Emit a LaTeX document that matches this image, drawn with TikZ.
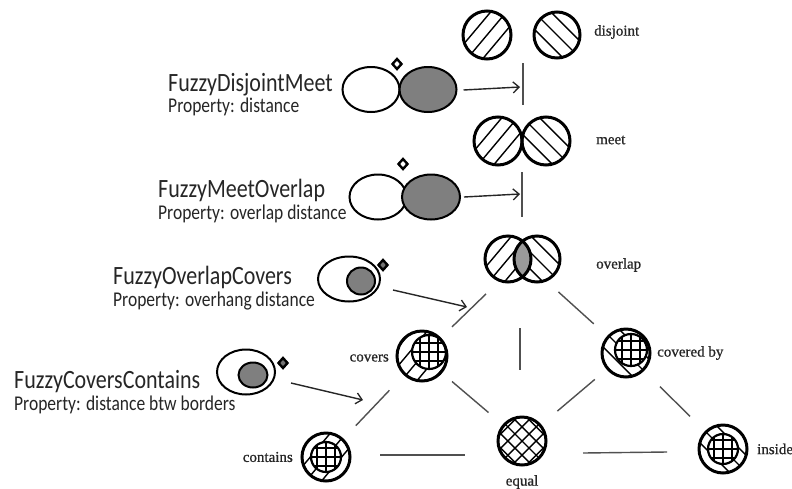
\documentclass[tikz,border=0pt]{standalone}
\usepackage{fontspec}
\usepackage{graphicx}
\setmainfont{Liberation Serif}
\newfontfamily\labfont{Liberation Serif}[FakeBold=0.8]
\newfontfamily\calib{Carlito}
\usetikzlibrary{calc,arrows.meta,shapes.geometric}
\definecolor{shade}{HTML}{7F7F7F}
\definecolor{lens}{HTML}{9A9A9A}
\definecolor{connc}{HTML}{505050}
\newcommand{\hatchlines}[4]{%
  \begin{scope}
    \clip (#1) circle (#2);
    \begin{scope}[shift={(#1)}, rotate=#3]
      \foreach \k in {-5,...,5} \draw[hatchln] (-40,\k*#4) -- (40,\k*#4);
    \end{scope}
  \end{scope}}
\newcommand{\tallt}[1]{\scalebox{1}[1.2]{#1}}
\tikzset{
  hatchln/.style={line width=1.4pt, black},
  ringln/.style={line width=3pt, black},
  innerln/.style={line width=2.2pt, black},
  conn/.style={line width=1.4pt, connc},
  arr/.style={-{Straight Barb[length=6pt,width=11pt,line width=1.3pt]}, line width=1.4pt, black!85},
  lab/.style={font=\labfont\fontsize{15}{15}\selectfont, inner sep=0, text=black!85},
  ttl/.style={font=\calib\fontsize{22}{22}\selectfont, anchor=base west, inner sep=0, text=black!85},
  prp/.style={font=\calib\fontsize{17.5}{17.5}\selectfont, anchor=base west, inner sep=0, text=black!85},
  ell/.style={ellipse, draw, line width=2pt, inner sep=0},
  dmd/.style={diamond, draw, line width=2.4pt, fill=white, minimum width=10pt, minimum height=11pt, inner sep=0},
}
\begin{document}
\begin{tikzpicture}[x=1pt,y=-1pt]
\useasboundingbox (0,0) rectangle (792,488);
\fill[white] (0,0) rectangle (792,488);

% centres of the lattice figures
\coordinate (djL) at (487,35);  \coordinate (djR) at (557,35);  \coordinate (dj) at (522,35);
\coordinate (mtL) at (498,141); \coordinate (mtR) at (546,141); \coordinate (mt) at (522,141);
\coordinate (ovL) at (508,259); \coordinate (ovR) at (537,259); \coordinate (ov) at (522,259);
\coordinate (cv) at (422,356);  \coordinate (cvi) at (429,352);
\coordinate (cb) at (626,353);  \coordinate (cbi) at (631,350);
\coordinate (ct) at (326,457);
\coordinate (eq) at (522,441);
\coordinate (in) at (723,449);

% disjoint
\hatchlines{djL}{24}{50}{12}
\hatchlines{djR}{23}{-45}{12}
\draw[ringln] (djL) circle (24);
\draw[ringln] (djR) circle (23);
% meet
\hatchlines{mtL}{24}{50}{12}
\hatchlines{mtR}{24}{-45}{12}
\draw[ringln] (mtL) circle (24);
\draw[ringln] (mtR) circle (24);
% overlap
\hatchlines{ovL}{23}{50}{12}
\hatchlines{ovR}{23}{-45}{12}
\begin{scope}
  \clip (ovL) circle (23);
  \fill[lens] (ovR) circle (23);
\end{scope}
\draw[ringln] (ovL) circle (23);
\draw[ringln] (ovR) circle (23);
% covers
\hatchlines{cv}{25}{50}{12}
\fill[white] (cvi) circle (17);
\hatchlines{cvi}{17}{0}{9}
\hatchlines{cvi}{17}{90}{9}
\draw[innerln] (cvi) circle (17);
\draw[ringln] (cv) circle (25);
% covered by
\hatchlines{cb}{24}{-45}{12}
\fill[white] (cbi) circle (16);
\hatchlines{cbi}{16}{0}{9}
\hatchlines{cbi}{16}{90}{9}
\draw[innerln] (cbi) circle (16);
\draw[ringln] (cb) circle (24);
% contains
\hatchlines{ct}{24}{50}{12}
\fill[white] (ct) circle (15);
\hatchlines{ct}{15}{0}{9}
\hatchlines{ct}{15}{90}{9}
\draw[innerln] (ct) circle (15);
\draw[ringln] (ct) circle (24);
% inside
\hatchlines{in}{24}{-45}{12}
\fill[white] (in) circle (15);
\hatchlines{in}{15}{0}{9}
\hatchlines{in}{15}{90}{9}
\draw[innerln] (in) circle (15);
\draw[ringln] (in) circle (24);
% equal
\hatchlines{eq}{24}{45}{10}
\hatchlines{eq}{24}{-45}{10}
\draw[ringln] (eq) circle (24);

% lattice labels
\node[lab, anchor=west] (ldj) at (594,32) {disjoint};
\node[lab, anchor=west] (lmt) at (596,140) {meet};
\node[lab, anchor=west] (lov) at (596,265) {overlap};
\node[lab, anchor=east] (lcv) at (389,358) {covers};
\node[lab, anchor=west] (lcb) at (657,353) {covered by};
\node[lab, anchor=east] (lct) at (293,457) {contains};
\node[lab] (leq) at (522,482) {equal};
\node[lab, anchor=west] (lin) at (757,449) {inside};

% lattice connectors
\draw[conn] ($(dj)+(1,28)$) -- ($(mt)+(1,-36)$);
\draw[conn] ($(mt)+(0,31)$) -- ($(ov)+(0,-42)$);
\draw[conn] ($(ov)!0.36!(cv)$) -- ($(ov)!0.70!(cv)$);
\draw[conn] ($(ov)!0.35!(cb)$) -- ($(ov)!0.69!(cb)$);
\draw[conn] ($(ov)+(-2,69)$) -- ($(eq)+(-2,-71)$);
\draw[conn] ($(cv)!0.30!(eq)$) -- ($(cv)!0.665!(eq)$);
\draw[conn] ($(cb)!0.30!(eq)$) -- ($(cb)!0.66!(eq)$);
\draw[conn] ($(ct)!0.31!(cv)$) -- ($(ct)!0.66!(cv)$);
\draw[conn] ($(ct)+(54,-2)$) -- ($(eq)+(-57,14)$);
\draw[conn] ($(eq)+(61,12)$) -- ($(in)+(-56,3)$);
\draw[conn] ($(cb)!0.35!(in)$) -- ($(cb)!0.66!(in)$);

% fuzzy relations: ellipses and diamonds
\node[ell, fill=white, minimum width=57pt, minimum height=45pt] (dmA) at (371,89.5) {};
\node[ell, fill=shade, minimum width=57pt, minimum height=45pt] (dmB) at (428,89.5) {};
\node[dmd] (dmD) at (397,64) {};
\node[ell, fill=white, minimum width=57pt, minimum height=45pt] (moA) at (378,197) {};
\node[ell, fill=shade, minimum width=58pt, minimum height=45pt] (moB) at (431,197) {};
\node[dmd] (moD) at (403,164) {};
\node[ell, fill=white, minimum width=62pt, minimum height=45pt] (ocA) at (349,279) {};
\node[ell, fill=shade, minimum width=28pt, minimum height=27pt] (ocB) at (361,281) {};
\node[dmd, fill=black!55] (ocD) at (383,265) {};
\node[ell, fill=white, minimum width=58pt, minimum height=45pt] (ccA) at (246,372) {};
\node[ell, fill=shade, minimum width=29pt, minimum height=25pt] (ccB) at (253,375) {};
\node[dmd, fill=black!55] (ccD) at (283,363) {};

% titles
\node[ttl] (t1) at (168,91) {\tallt{FuzzyDisjointMeet}};
\node[prp] (p1) at (168,112) {\tallt{Property: distance}};
\node[ttl] (t2) at (158,197) {\tallt{FuzzyMeetOverlap}};
\node[prp] (p2) at (158,219) {\tallt{Property: overlap distance}};
\node[ttl] (t3) at (113,284) {\tallt{FuzzyOverlapCovers}};
\node[prp] (p3) at (113,306) {\tallt{Property: overhang distance}};
\node[ttl] (t4) at (14,388) {\tallt{FuzzyCoversContains}};
\node[prp] (p4) at (14,410) {\tallt{Property: distance btw borders}};

% arrows
\coordinate (e1) at (520,87);
\coordinate (e2) at (520,194);
\coordinate (e3) at (467,307);
\coordinate (e4) at (363,400);
\draw[arr] ($(dmB.east)+(6,0.5)$) -- (e1);
\draw[arr] ($(moB.east)+(3,0)$) -- (e2);
\draw[arr] ($(ocA.east)+(12,11)$) -- (e3);
\draw[arr] ($(ccA.east)+(15,11)$) -- (e4);
\end{tikzpicture}
\end{document}
